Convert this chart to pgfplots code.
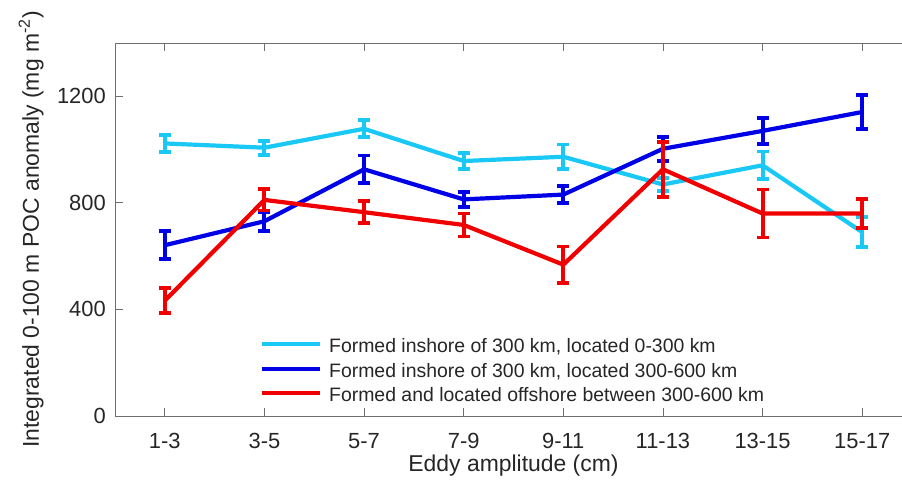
\documentclass[border=0pt]{standalone}
\usepackage{fontspec}
\setmainfont{Liberation Sans}
\usepackage{pgfplots}
\usepackage{pgfplotstable}
\pgfplotsset{compat=1.18}

\definecolor{lightblue}{RGB}{25,200,245}
\definecolor{deepblue}{RGB}{0,0,230}
\definecolor{brightred}{RGB}{240,0,0}
\definecolor{spine}{RGB}{110,110,110}
\definecolor{txt}{RGB}{38,38,38}

% amplitude class index, mean anomaly, standard error
\pgfplotstableread{
x y e
1 1023 31
2 1007 26
3 1078 32
4 957 29
5 973 46
6 869 25
7 941 52
8 690 57
}\inshorenear
\pgfplotstableread{
x y e
1 641 52
2 731 36
3 926 52
4 813 28
5 831 31
6 1003 45
7 1070 49
8 1141 64
}\inshorefar
\pgfplotstableread{
x y e
1 433 47
2 811 40
3 765 41
4 717 43
5 568 68
6 926 103
7 760 90
8 760 55
}\offshore

\begin{document}
\begin{tikzpicture}
\begin{axis}[
  at={(0,0)}, anchor=south west,
  scale only axis, width=797bp, height=373bp,
  xmin=0.5, xmax=8.5, ymin=0, ymax=1400,
  xtick={1,...,8},
  xticklabels={1-3,3-5,5-7,7-9,9-11,11-13,13-15,15-17},
  ytick={0,400,800,1200},
  tick align=inside,
  major tick length=8bp,
  axis line style={spine, line width=0.8bp},
  every tick/.style={spine, line width=0.8bp},
  /pgf/number format/assume math mode=true,
  /pgf/number format/1000 sep={},
  xticklabel style={anchor=base, inner sep=0pt, yshift=-32bp,
    font=\fontsize{22}{26}\selectfont, text=txt},
  yticklabel style={anchor=east, inner sep=0pt, xshift=-9bp,
    font=\fontsize{22}{26}\selectfont, text=txt},
  xlabel={Eddy amplitude (cm)},
  ylabel={Integrated 0-100 m POC anomaly (mg m\textsuperscript{-2})},
  xlabel style={at={(axis description cs:0.5,0)}, anchor=base, inner sep=0pt,
    yshift=-55bp, font=\fontsize{23}{27}\selectfont, text=txt},
  ylabel style={at={(axis description cs:-0.0954,0.5)}, anchor=base, inner sep=0pt,
    font=\fontsize{23}{27}\selectfont, text=txt},
  legend image code/.code={\draw[#1, line width=4bp] (0bp,0.35em) -- (58bp,0.35em);},
  legend style={at={(axis description cs:0.1819,0.2072)}, anchor=north west,
    draw=none, fill=white, inner sep=0pt, column sep=7bp, row sep=6.3bp,
    font=\fontsize{19.5}{23}\selectfont, text=txt,
    nodes={inner sep=0pt, text height=14bp, text depth=4bp}},
  legend cell align=left,
  every axis plot/.append style={line width=4.2bp, mark=none},
  error bars/y dir=both,
  error bars/y explicit,
]
\addplot[lightblue, error bars/.cd,
  error bar style={line width=4bp, lightblue},
  error mark options={rotate=90, mark size=6bp, line width=3.8bp, lightblue}]
  table[x=x, y=y, y error=e] {\inshorenear};
\addlegendentry{Formed inshore of 300 km, located 0-300 km}
\addplot[deepblue, error bars/.cd,
  error bar style={line width=4bp, deepblue},
  error mark options={rotate=90, mark size=6bp, line width=3.8bp, deepblue}]
  table[x=x, y=y, y error=e] {\inshorefar};
\addlegendentry{Formed inshore of 300 km, located 300-600 km}
\addplot[brightred, error bars/.cd,
  error bar style={line width=4bp, brightred},
  error mark options={rotate=90, mark size=6bp, line width=3.8bp, brightred}]
  table[x=x, y=y, y error=e] {\offshore};
\addlegendentry{Formed and located offshore between 300-600 km}
\end{axis}
\pgfresetboundingbox
\path[use as bounding box] (-115bp,-70bp) rectangle (787bp,416bp);
\end{tikzpicture}
\end{document}
